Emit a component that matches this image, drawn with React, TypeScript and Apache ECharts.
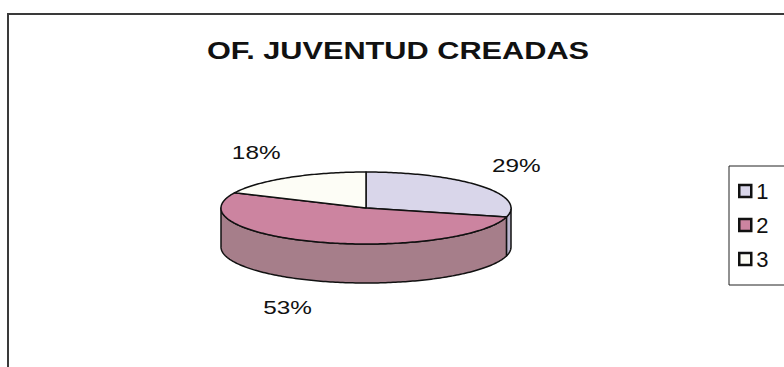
import React, { useEffect, useRef } from 'react';
import * as echarts from 'echarts';

// ---- data ----
const categories: string[] = ['1', '2', '3'];
const values: number[] = [29, 53, 18];
const chartTitle = 'OF. JUVENTUD CREADAS';

// ---- styles ----
const topColors = ['#d9d6ea', '#cc84a0', '#fdfdf6'];
const sideColors = ['#bab6ce', '#a67e8a', '#e2e2da'];
const FONT = '"Liberation Sans", Arial, sans-serif';
const STRETCH = 1.28;

// ---- 3D pie layout ----
const CX = 366;
const CY = 208;
const RX = 145;
const RY = 36;
const DEPTH = 39;

function pt(deg: number, dz = 0): number[] {
  const r = (deg * Math.PI) / 180;
  return [CX + RX * Math.sin(r), CY - RY * Math.cos(r) + dz];
}

function arc(a0: number, a1: number, dz: number): number[][] {
  const n = Math.max(2, Math.ceil(Math.abs(a1 - a0)));
  const out: number[][] = [];
  for (let i = 0; i <= n; i++) out.push(pt(a0 + ((a1 - a0) * i) / n, dz));
  return out;
}

export default function App() {
  const ref = useRef<HTMLDivElement>(null);

  useEffect(() => {
    if (!ref.current) return;
    const chart = echarts.init(ref.current, null, { renderer: 'svg' });
    const total = values.reduce((a, b) => a + b, 0);
    const starts: number[] = [];
    let acc = 0;
    values.forEach((v) => {
      starts.push((acc / total) * 360);
      acc += v;
    });

    const makeRender = (i: number) => (params: any, api: any) => {
      const v = api.value(0) as number;
      const a0 = starts[i];
      const a1 = a0 + (v / total) * 360;
      const children: any[] = [];
      const s = Math.max(a0, 90);
      const e = Math.min(a1, 270);
      if (e > s) {
        const pts = arc(s, e, 0).concat(arc(e, s, DEPTH));
        children.push({
          type: 'polygon',
          shape: { points: pts },
          style: { fill: sideColors[i], stroke: '#111', lineWidth: 1.5, lineJoin: 'round' },
        });
      }
      children.push({
        type: 'polygon',
        shape: { points: [[CX, CY]].concat(arc(a0, a1, 0)) },
        style: { fill: topColors[i], stroke: '#111', lineWidth: 1.5, lineJoin: 'round' },
      });
      const mid = (a0 + a1) / 2;
      const r = (mid * Math.PI) / 180;
      const sn = Math.sin(r);
      const cs = Math.cos(r);
      const lx = CX + RX * 1.1 * sn;
      const ly = CY - RY * 1.5 * cs + (cs < 0 ? DEPTH : 0);
      children.push({
        type: 'text',
        x: lx,
        y: ly,
        scaleX: STRETCH,
        style: {
          text: Math.round((v / total) * 100) + '%',
          x: 0,
          y: 0,
          fill: '#111',
          font: `19px ${FONT}`,
          align: sn >= 0 ? 'left' : 'right',
          verticalAlign: cs >= 0 ? 'bottom' : 'top',
        },
      });
      return { type: 'group', children };
    };

    chart.setOption({
      animation: false,
      backgroundColor: '#ffffff',
      legend: {
        orient: 'vertical',
        left: 729,
        top: 166,
        padding: [14, 40, 15, 9],
        itemGap: 12,
        itemWidth: 12,
        itemHeight: 12,
        icon: 'rect',
        borderColor: '#222',
        borderWidth: 1,
        data: categories.map((name) => ({
          name,
          itemStyle: { borderColor: '#111', borderWidth: 2.5 },
          textStyle: { fontSize: 22, fontFamily: FONT, color: '#111' },
        })),
        textStyle: { fontSize: 22, fontFamily: FONT, color: '#111' },
        itemStyle: { borderColor: '#111', borderWidth: 2.5 },
      },
      graphic: [
        {
          type: 'rect',
          z: -10,
          shape: { x: 8, y: 14, width: 900, height: 500 },
          style: { fill: 'none', stroke: '#3a3a3a', lineWidth: 2 },
        },
        {
          type: 'text',
          x: 398,
          y: 51,
          scaleX: STRETCH,
          style: {
            text: chartTitle,
            x: 0,
            y: 0,
            font: `bold 24px ${FONT}`,
            fill: '#111',
            align: 'center',
            verticalAlign: 'middle',
          },
        },
      ],
      series: categories.map((name, i) => ({
        type: 'custom',
        name,
        coordinateSystem: 'none',
        itemStyle: { color: topColors[i], borderColor: '#111', borderWidth: 2.5 },
        data: [values[i]],
        renderItem: makeRender(i),
      })),
    });

    return () => chart.dispose();
  }, []);

  return (
    <div
      ref={ref}
      style={{ position: 'absolute', left: 0, top: 0, width: 784, height: 367 }}
    />
  );
}
